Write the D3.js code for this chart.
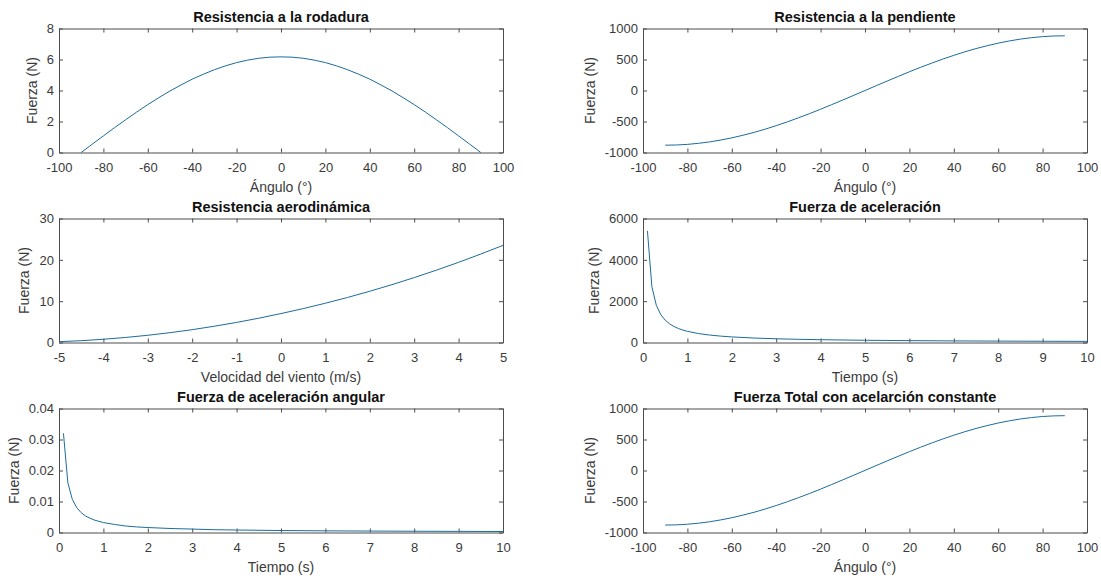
<!DOCTYPE html>
<html>
<head>
<meta charset="utf-8">
<script src="https://cdn.jsdelivr.net/npm/d3@7"></script>
<style>
  body { margin: 0; background: #fff; }
  svg { display: block; font-family: "Liberation Sans", Arial, sans-serif; }
</style>
</head>
<body>
<svg id="chart" width="1101" height="578"></svg>
<script>
// angles (deg) shared by the angle plots
var angulos = [-90, -85, -80, -75, -70, -65, -60, -55, -50, -45, -40, -35, -30, -25, -20, -15, -10, -5, 0,
  5, 10, 15, 20, 25, 30, 35, 40, 45, 50, 55, 60, 65, 70, 75, 80, 85, 90];
var rodadura = [0, 0.54, 1.07, 1.6, 2.11, 2.61, 3.09, 3.54, 3.97, 4.36, 4.73, 5.05, 5.34, 5.59, 5.8, 5.96, 6.08, 6.15, 6.17,
  6.15, 6.08, 5.96, 5.8, 5.59, 5.34, 5.05, 4.73, 4.36, 3.97, 3.54, 3.09, 2.61, 2.11, 1.6, 1.07, 0.54, 0];
var pendiente = [-882, -879, -869, -852, -829, -799, -764, -722, -676, -624, -567, -506, -441, -373, -302, -228, -153, -77, 0,
  77, 153, 228, 302, 373, 441, 506, 567, 624, 676, 722, 764, 799, 829, 852, 869, 879, 882];
var total = [-880, -877, -867, -850, -827, -797, -762, -720, -674, -622, -565, -504, -439, -371, -300, -226, -151, -75, 2,
  79, 155, 230, 304, 375, 443, 508, 569, 626, 678, 724, 766, 801, 831, 854, 871, 881, 884];

var vientos = [-5, -4.5, -4, -3.5, -3, -2.5, -2, -1.5, -1, -0.5, 0, 0.5, 1, 1.5, 2, 2.5, 3, 3.5, 4, 4.5, 5];
var aero = [0.2, 0.44, 0.78, 1.22, 1.75, 2.38, 3.1, 3.94, 4.86, 5.88, 7.0, 8.2, 9.5, 10.9, 12.4, 14.0, 15.7, 17.5, 19.4, 21.4, 23.5];

var tiempos = [0.1, 0.2, 0.3, 0.4, 0.5, 0.6, 0.7, 0.8, 0.9, 1, 1.25, 1.5, 1.75, 2, 2.5, 3, 3.5, 4, 5, 6, 7, 8, 9, 10];
var aceleracion = [5400, 2700, 1800, 1350, 1080, 900, 771, 675, 600, 540, 432, 360, 309, 270, 216, 180, 154, 135, 108, 90, 77, 68, 60, 54];
var angular = [0.032, 0.016, 0.0107, 0.008, 0.0064, 0.0053, 0.0046, 0.004, 0.0036, 0.0032, 0.0026, 0.0021, 0.0018, 0.0016, 0.0013, 0.0011, 0.0009, 0.0008, 0.00064, 0.00053, 0.00046, 0.0004, 0.00036, 0.00032];

var ticksAngulo = [-100, -80, -60, -40, -20, 0, 20, 40, 60, 80, 100];
var ticksViento = [-5, -4, -3, -2, -1, 0, 1, 2, 3, 4, 5];
var ticksTiempo = [0, 1, 2, 3, 4, 5, 6, 7, 8, 9, 10];

var panels = [
  { title: "Resistencia a la rodadura", xs: angulos, ys: rodadura, xd: [-100, 100], xt: ticksAngulo, yd: [0, 8], yt: [0, 2, 4, 6, 8], xl: "Ángulo (°)" },
  { title: "Resistencia a la pendiente", xs: angulos, ys: pendiente, xd: [-100, 100], xt: ticksAngulo, yd: [-1000, 1000], yt: [-1000, -500, 0, 500, 1000], xl: "Ángulo (°)" },
  { title: "Resistencia aerodinámica", xs: vientos, ys: aero, xd: [-5, 5], xt: ticksViento, yd: [0, 30], yt: [0, 10, 20, 30], xl: "Velocidad del viento (m/s)" },
  { title: "Fuerza de aceleración", xs: tiempos, ys: aceleracion, xd: [0, 10], xt: ticksTiempo, yd: [0, 6000], yt: [0, 2000, 4000, 6000], xl: "Tiempo (s)" },
  { title: "Fuerza de aceleración angular", xs: tiempos, ys: angular, xd: [0, 10], xt: ticksTiempo, yd: [0, 0.04], yt: [0, 0.01, 0.02, 0.03, 0.04], xl: "Tiempo (s)" },
  { title: "Fuerza Total con acelarción constante", xs: angulos, ys: total, xd: [-100, 100], xt: ticksAngulo, yd: [-1000, 1000], yt: [-1000, -500, 0, 500, 1000], xl: "Ángulo (°)" }
];

var svg = d3.select("#chart");
var colX = [59, 643], rowY = [28.5, 218.5, 408.5];
var w = 444, h = 124;
var axisCol = "#4d4d4d", textCol = "#3a3a3a", lineCol = "#1b6d9c";

// plain hyphen minus, as in the matlab figure
var fmt = function (d) { return String(+d.toFixed(4)); };

panels.forEach(function (p, i) {
  var g = svg.append("g")
    .attr("transform", "translate(" + colX[i % 2] + "," + rowY[Math.floor(i / 2)] + ")");

  var x = d3.scaleLinear().domain(p.xd).range([0, w]);
  var y = d3.scaleLinear().domain(p.yd).range([h, 0]);

  // box-style axes with inward ticks
  var ax = function (a) { return a.tickSizeInner(-4).tickSizeOuter(0).tickPadding(8); };
  var gb = g.append("g").attr("transform", "translate(0," + h + ")").call(ax(d3.axisBottom(x).tickValues(p.xt).tickFormat(fmt)));
  var gt = g.append("g").call(ax(d3.axisTop(x).tickValues(p.xt)).tickFormat(""));
  var gl = g.append("g").call(ax(d3.axisLeft(y).tickValues(p.yt).tickFormat(fmt)));
  var gr = g.append("g").attr("transform", "translate(" + w + ",0)").call(ax(d3.axisRight(y).tickValues(p.yt)).tickFormat(""));

  [gb, gt, gl, gr].forEach(function (a) {
    a.select(".domain").attr("stroke", axisCol).attr("stroke-width", 1);
    a.selectAll(".tick line").attr("stroke", axisCol);
    a.selectAll(".tick text").attr("fill", textCol).style("font-size", "13px").style("font-family", "Liberation Sans, Arial, sans-serif");
  });
  gb.selectAll(".tick text").attr("dy", "0.85em");
  gl.selectAll(".tick text").attr("x", -5);

  var line = d3.line().x(function (d) { return x(d); }).y(function (d, k) { return y(p.ys[k]); });
  g.append("path").datum(p.xs)
    .attr("d", line)
    .attr("fill", "none").attr("stroke", lineCol).attr("stroke-width", 1);

  g.append("text").attr("x", w / 2).attr("y", -7)
    .attr("text-anchor", "middle").attr("fill", "#111")
    .style("font-size", "14.5px").style("font-weight", "bold")
    .text(p.title);

  g.append("text").attr("x", w / 2).attr("y", h + 39)
    .attr("text-anchor", "middle").attr("fill", textCol)
    .style("font-size", "14px")
    .text(p.xl);

  var maxW = d3.max(gl.selectAll(".tick text").nodes(), function (n) { return n.getBBox().width; });
  g.append("text")
    .attr("transform", "translate(" + (-(maxW + 20)) + "," + (h / 2) + ") rotate(-90)")
    .attr("text-anchor", "middle").attr("dy", "0.35em").attr("fill", textCol)
    .style("font-size", "14px")
    .text("Fuerza (N)");
});
</script>
</body>
</html>
